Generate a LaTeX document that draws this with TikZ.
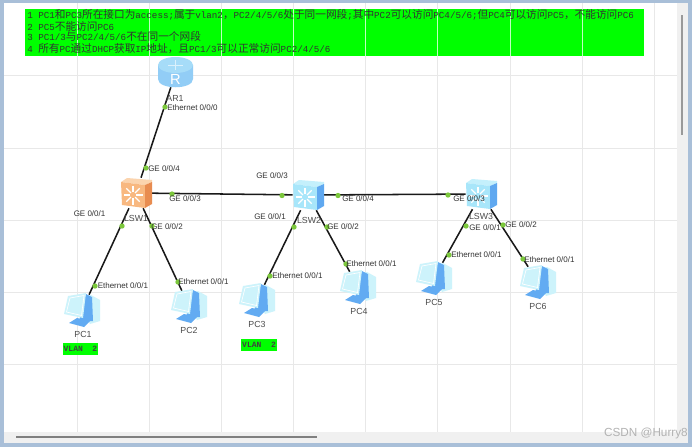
\documentclass[tikz,border=0pt]{standalone}
\usepackage{fontspec}
\setmainfont{Liberation Sans}
\newfontfamily\cjk{Noto Sans CJK SC}
\newfontfamily\lat{Liberation Mono}
\newcommand\cj[1]{{\fontsize{8pt}{10pt}\cjk #1}}
\definecolor{frameblue}{HTML}{A9BFD8}
\definecolor{gridgray}{HTML}{E8E8E8}
\definecolor{vgreen}{HTML}{00FF00}
\definecolor{portgreen}{HTML}{7CC83C}
\definecolor{swface}{HTML}{A8E6FA}
\definecolor{swtop}{HTML}{C4F0FC}
\definecolor{swside}{HTML}{5FA8F0}
\definecolor{orface}{HTML}{F8B880}
\definecolor{ortop}{HTML}{FBD4AE}
\definecolor{orside}{HTML}{E88C50}
\definecolor{pcpale}{HTML}{CDF3FB}
\definecolor{pcblue}{HTML}{62ABF2}
\definecolor{rbody}{HTML}{92CDF6}
\definecolor{rtop}{HTML}{A6DCF8}
\tikzset{
  x=0.75pt,y=-0.75pt,
  gridline/.style={gridgray,line width=0.75pt},
  link/.style={black!90,line width=1.15pt},
  port/.style={circle,fill=portgreen,inner sep=0pt,minimum size=4pt},
  portlabel/.style={anchor=west,inner sep=0pt,text=black!80,font=\fontsize{6pt}{7pt}\selectfont},
  devname/.style={inner sep=0pt,text=black!70,font=\fontsize{6.6pt}{8pt}\selectfont},
  devbox/.style={inner sep=0pt,minimum width=22.5pt,minimum height=22.5pt},
  noteline/.style={anchor=west,inner sep=0pt,font=\lat\fontsize{6.9pt}{9pt}\selectfont,text=black!80},
  vlanbox/.style={fill=vgreen,inner sep=0pt,font=\lat\bfseries\fontsize{6pt}{7pt}\selectfont,text=black!75},
  pics/swicon/.style n args={3}{code={
    \fill[#1] (-15,-11)--(-9,-15)--(16,-13)--(16,-11)--(9,-8)--cycle;
    \fill[#2] (-15,-11)--(9,-8)--(9,15)--(-14,12)--cycle;
    \fill[#3] (9,-8)--(16,-11)--(16,11)--(9,15)--cycle;
    \foreach \a in {0,45,...,315}{
      \draw[white,line width=0.9pt] (-3,2)++(\a:3) -- ++(\a:6.5);
    }
  }},
  pics/pcicon/.style={code={
    \fill[pcpale] (-6,-12)--(9,-15)--(18,-10)--(18,11)--(8,14)--cycle;
    \fill[pcblue] (-13,13)--(-5,8)--(8,11)--(2,17)--cycle;
    \fill[pcblue] (4,-16)--(10,-13)--(11,11)--(-3,11)--cycle;
    \fill[pcpale] (-18,4)--(-14,-14)--(4,-17)--(1,8)--cycle;
    \draw[white,line width=0.5pt] (-15.5,2)--(-12,-12)--(2,-14.5)--(-0.5,5.5)--cycle;
  }},
}
\begin{document}
\begin{tikzpicture}
\useasboundingbox (0,0) rectangle (692,447);
\fill[frameblue] (0,0) rectangle (692,447);
\fill[white] (4,3) rectangle (677,432);
\fill[black!6] (4,432) rectangle (688,443);
\fill[black!6] (677,3) rectangle (688,443);
% grid
\foreach \gx in {77,149,221,293.5,365,437,510,582,654}{\draw[gridline] (\gx,3)--(\gx,432);}
\foreach \gy in {75,148,220,292,364}{\draw[gridline] (4,\gy)--(677,\gy);}
% scrollbars
\draw[black!50,line width=1pt] (16,437)--(317,437);
\draw[black!40,line width=1.2pt] (682,15)--(682,135);
% note
\fill[vgreen] (25,9) rectangle (644,56);
\foreach \gx in {77,149,221,293.5,365,437,510,582}{\draw[white!75!vgreen,line width=0.4pt] (\gx,9)--(\gx,56);}
\node[noteline] (n1) at (27,15) {1 PC1\cj{和}PC3\cj{所在接口为}access;\cj{属于}vlan2\cj{，}PC2/4/5/6\cj{处于同一网段};\cj{其中}PC2\cj{可以访问}PC4/5/6;\cj{但}PC4\cj{可以访问}PC5\cj{，不能访问}PC6};
\node[noteline] (n2) at (27,26) {2 PC5\cj{不能访问}PC6};
\node[noteline] (n3) at (27,36.5) {3 PC1/3\cj{与}PC2/4/5/6\cj{不在同一个网段}};
\node[noteline] (n4) at (27,49) {4 \cj{所有}PC\cj{通过}DHCP\cj{获取}IP\cj{地址，且}PC1/3\cj{可以正常访问}PC2/4/5/6};
% device anchors
\node[devbox,minimum width=27pt,minimum height=21pt] (ar1) at (175.5,73) {};
\node[devbox] (lsw1) at (136,193) {};
\node[devbox] (lsw2) at (308,195) {};
\node[devbox] (lsw3) at (481,194) {};
\node[devbox] (pc1) at (82,310) {};
\node[devbox] (pc2) at (189,306) {};
\node[devbox] (pc3) at (257,300) {};
\node[devbox] (pc4) at (358,287) {};
\node[devbox] (pc5) at (434,278) {};
\node[devbox] (pc6) at (538,282) {};
% links
\draw[link] (ar1)--(lsw1);
\draw[link] (lsw1)--(lsw2);
\draw[link] (lsw2)--(lsw3);
\draw[link] (lsw1)--(pc1);
\draw[link] (lsw1)--(pc2);
\draw[link] (lsw2)--(pc3);
\draw[link] (lsw2)--(pc4);
\draw[link] (lsw3)--(pc5);
\draw[link] (lsw3)--(pc6);
% router icon
\fill[rbody] (158,65)--(158,79) .. controls (158,90) and (193,90) .. (193,79)--(193,65)--cycle;
\fill[rtop] (175.5,65) ellipse[x radius=17.5,y radius=8];
\draw[white!60!rtop,line width=0.5pt] (168,65)--(183,65) (175.5,60)--(175.5,70);
\node[inner sep=0pt,text=white,font=\fontsize{11pt}{12pt}\selectfont] (rglyph) at (175.5,79.5) {R};
% switch icons
\pic at (136,193) {swicon={ortop}{orface}{orside}};
\pic at (308,195) {swicon={swtop}{swface}{swside}};
\pic at (481,194) {swicon={swtop}{swface}{swside}};
% pc icons
\pic at (82,310) {pcicon};
\pic at (189,306) {pcicon};
\pic at (257,300) {pcicon};
\pic at (358,287) {pcicon};
\pic at (434,278) {pcicon};
\pic at (538,282) {pcicon};
% ports
\node[port] (p1) at (165,107) {};
\node[port] (p2) at (146,168) {};
\node[port] (p3) at (172,194) {};
\node[port] (p4) at (282,195.5) {};
\node[port] (p5) at (122,226) {};
\node[port] (p6) at (152,226) {};
\node[port] (p7) at (95,286) {};
\node[port] (p8) at (178,282) {};
\node[port] (p9) at (294,227) {};
\node[port] (p10) at (327,227) {};
\node[port] (p11) at (270,276) {};
\node[port] (p12) at (346,264) {};
\node[port] (p13) at (338,195.5) {};
\node[port] (p14) at (448,195) {};
\node[port] (p15) at (466,226) {};
\node[port] (p16) at (503,225) {};
\node[port] (p17) at (449,255) {};
\node[port] (p18) at (523,259) {};
% port labels
\node[portlabel] (l1) at (167,108) {Ethernet 0/0/0};
\node[portlabel] (l2) at (148,169) {GE 0/0/4};
\node[portlabel] (l3) at (169,198.5) {GE 0/0/3};
\node[portlabel] (l4) at (256,176) {GE 0/0/3};
\node[portlabel] (l5) at (73.5,213.5) {GE 0/0/1};
\node[portlabel] (l6) at (151,227) {GE 0/0/2};
\node[portlabel] (l7) at (97.5,286) {Ethernet 0/0/1};
\node[portlabel] (l8) at (178,282) {Ethernet 0/0/1};
\node[portlabel] (l9) at (254,217) {GE 0/0/1};
\node[portlabel] (l10) at (327,227) {GE 0/0/2};
\node[portlabel] (l11) at (272,276) {Ethernet 0/0/1};
\node[portlabel] (l12) at (346,264) {Ethernet 0/0/1};
\node[portlabel] (l13) at (342,199) {GE 0/0/4};
\node[portlabel] (l14) at (453,199) {GE 0/0/3};
\node[portlabel] (l15) at (469,227.5) {GE 0/0/1};
\node[portlabel] (l16) at (505,225) {GE 0/0/2};
\node[portlabel] (l17) at (451,255) {Ethernet 0/0/1};
\node[portlabel] (l18) at (524,259.5) {Ethernet 0/0/1};
% device names
\node[devname] (nar1) at (175,98.5) {AR1};
\node[devname] (nlsw1) at (136,218) {LSW1};
\node[devname] (nlsw2) at (309,220) {LSW2};
\node[devname] (nlsw3) at (481,216) {LSW3};
\node[devname] (npc1) at (83,334) {PC1};
\node[devname] (npc2) at (189,330) {PC2};
\node[devname] (npc3) at (257,324) {PC3};
\node[devname] (npc4) at (359,311) {PC4};
\node[devname] (npc5) at (434,302.5) {PC5};
\node[devname] (npc6) at (538,306) {PC6};
% vlan
\node[vlanbox,minimum width=26.25pt,minimum height=9.5pt] (v1) at (80.5,349) {VLAN\ \ 2};
\node[vlanbox,minimum width=27pt,minimum height=9.5pt] (v2) at (259,345) {VLAN\ \ 2};
% watermark
\node[anchor=east,inner sep=0pt,text=black!30,font=\fontsize{8.8pt}{9pt}\selectfont] (wm) at (688,433) {CSDN @Hurry8};
\end{tikzpicture}
\end{document}
